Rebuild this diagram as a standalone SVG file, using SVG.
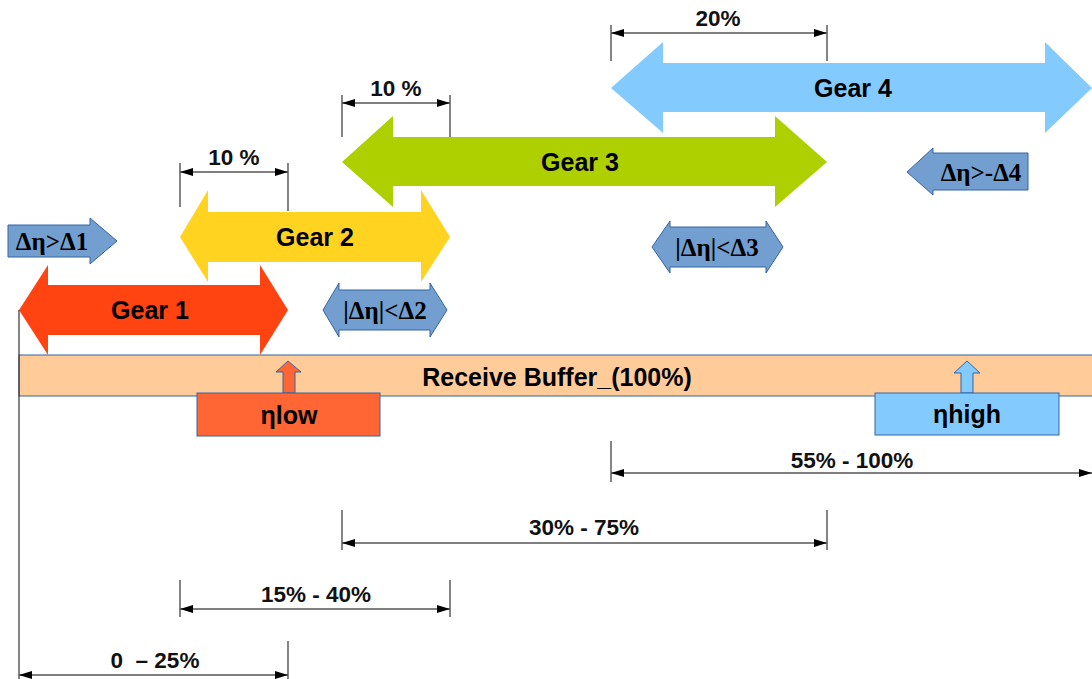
<svg xmlns="http://www.w3.org/2000/svg" width="1092" height="679" viewBox="0 0 1092 679">
  <defs>
    <marker id="dimArrow" markerUnits="userSpaceOnUse" markerWidth="13" markerHeight="8" refX="13" refY="4" orient="auto-start-reverse">
      <path d="M0,0 L13,4 L0,8 z" fill="#000"/>
    </marker>
    <style>
      .gear-label { font-family: "Liberation Sans", Arial, sans-serif; font-weight: bold; font-size: 25px; fill: #000; text-anchor: middle; dominant-baseline: central; }
      .dim-label { font-family: "Liberation Sans", Arial, sans-serif; font-weight: bold; font-size: 22.5px; fill: #111; text-anchor: middle; dominant-baseline: central; }
      .cond-label { font-family: "Liberation Serif", "Times New Roman", serif; font-weight: bold; font-size: 25px; fill: #000; text-anchor: middle; dominant-baseline: central; }
      .dim-line { stroke: #555; stroke-width: 1.3; fill: none; marker-start: url(#dimArrow); marker-end: url(#dimArrow); }
      .ext-line { stroke: #333; stroke-width: 1.2; fill: none; }
      .cond-arrow { fill: #729FCF; stroke: #3465A4; stroke-width: 1; }
    </style>
  </defs>

  <!-- receive buffer bar -->
  <g id="buffer">
    <rect x="19" y="355" width="1075" height="41" fill="#FFCC99" stroke="#3465A4" stroke-width="1"/>
    <text class="gear-label" x="557" y="377">Receive Buffer_(100%)</text>
  </g>

  <!-- gear ranges as double-headed arrows -->
  <g id="gear4">
    <polygon points="611,88 663,42 663,63 1045,63 1045,42 1092,88 1045,133 1045,112 663,112 663,133" fill="#83CAFF"/>
    <text class="gear-label" x="853" y="88">Gear 4</text>
  </g>
  <g id="gear3">
    <polygon points="342,162 393,116 393,137 775,137 775,116 827,162 775,207 775,186 393,186 393,207" fill="#AECF00"/>
    <text class="gear-label" x="580" y="162">Gear 3</text>
  </g>
  <g id="gear2">
    <polygon points="180,237 208,190 208,212 421,212 421,190 450,237 421,282 421,262 208,262 208,282" fill="#FFD320"/>
    <text class="gear-label" x="315" y="237">Gear 2</text>
  </g>
  <g id="gear1">
    <polygon points="19,310 48,265 48,285 260,285 260,265 288,310 260,355 260,335 48,335 48,355" fill="#FF4411"/>
    <text class="gear-label" x="150" y="310">Gear 1</text>
  </g>

  <!-- switching conditions -->
  <g id="cond1">
    <polygon class="cond-arrow" points="8,225 90,225 90,218 117,241 90,264 90,257 8,257"/>
    <text class="cond-label" x="52" y="241">Δη&gt;Δ1</text>
  </g>
  <g id="cond2">
    <polygon class="cond-arrow" points="323,310 339,283 339,290 430,290 430,283 447,310 430,337 430,330 339,330 339,337"/>
    <text class="cond-label" x="385" y="310">|Δη|&lt;Δ2</text>
  </g>
  <g id="cond3">
    <polygon class="cond-arrow" points="652,247 670,221 670,227 766,227 766,221 783,247 766,273 766,267 670,267 670,273"/>
    <text class="cond-label" x="717" y="247">|Δη|&lt;Δ3</text>
  </g>
  <g id="cond4">
    <polygon class="cond-arrow" points="907,172 933,148 933,153 1028,153 1028,190 933,190 933,195"/>
    <text class="cond-label" x="981" y="172">Δη&gt;-Δ4</text>
  </g>

  <!-- threshold markers -->
  <g id="eta-low">
    <polygon points="283,393 283,372 276,372 288,361 301,372 295,372 295,393" fill="#FF6633" stroke="#3465A4" stroke-width="1"/>
    <rect x="197" y="393" width="183" height="43" fill="#FF6633" stroke="#3465A4" stroke-width="1"/>
    <text class="gear-label" x="289" y="415">ηlow</text>
  </g>
  <g id="eta-high">
    <polygon points="961,393 961,373 954,373 967,361 980,373 973,373 973,393" fill="#83CAFF" stroke="#3465A4" stroke-width="1"/>
    <rect x="875" y="393" width="184" height="42" fill="#83CAFF" stroke="#3465A4" stroke-width="1"/>
    <text class="gear-label" x="967" y="414">ηhigh</text>
  </g>

  <!-- dimension lines -->
  <g id="connectors">
    <!-- origin line -->
    <line class="ext-line" x1="19" y1="310" x2="19" y2="679" stroke="#555"/>

    <!-- hysteresis widths -->
    <line class="ext-line" x1="611" y1="25" x2="611" y2="61"/>
    <line class="ext-line" x1="827" y1="25" x2="827" y2="61"/>
    <line class="dim-line" x1="611" y1="33" x2="827" y2="33"/>

    <line class="ext-line" x1="342" y1="95" x2="342" y2="137"/>
    <line class="ext-line" x1="450" y1="95" x2="450" y2="137"/>
    <line class="dim-line" x1="342" y1="103" x2="450" y2="103"/>

    <line class="ext-line" x1="180" y1="163" x2="180" y2="207"/>
    <line class="ext-line" x1="288" y1="163" x2="288" y2="211"/>
    <line class="dim-line" x1="180" y1="172" x2="288" y2="172"/>

    <!-- gear ranges -->
    <line class="ext-line" x1="611" y1="441" x2="611" y2="482"/>
    <line class="dim-line" x1="611" y1="473" x2="1092" y2="473"/>

    <line class="ext-line" x1="342" y1="510" x2="342" y2="550"/>
    <line class="ext-line" x1="827" y1="510" x2="827" y2="550"/>
    <line class="dim-line" x1="342" y1="543" x2="827" y2="543"/>

    <line class="ext-line" x1="180" y1="580" x2="180" y2="617"/>
    <line class="ext-line" x1="450" y1="580" x2="450" y2="617"/>
    <line class="dim-line" x1="180" y1="609" x2="450" y2="609"/>

    <line class="ext-line" x1="288" y1="641" x2="288" y2="679"/>
    <line class="dim-line" x1="19" y1="675" x2="288" y2="675"/>
  </g>

  <g id="dimension-labels">
    <text class="dim-label" x="718" y="18">20%</text>
    <text class="dim-label" x="396" y="88">10 %</text>
    <text class="dim-label" x="234" y="157">10 %</text>
    <text class="dim-label" x="852" y="460">55% - 100%</text>
    <text class="dim-label" x="584" y="527">30% - 75%</text>
    <text class="dim-label" x="316" y="594">15% - 40%</text>
    <text class="dim-label" x="155" y="660" xml:space="preserve">0  – 25%</text>
  </g>
</svg>
